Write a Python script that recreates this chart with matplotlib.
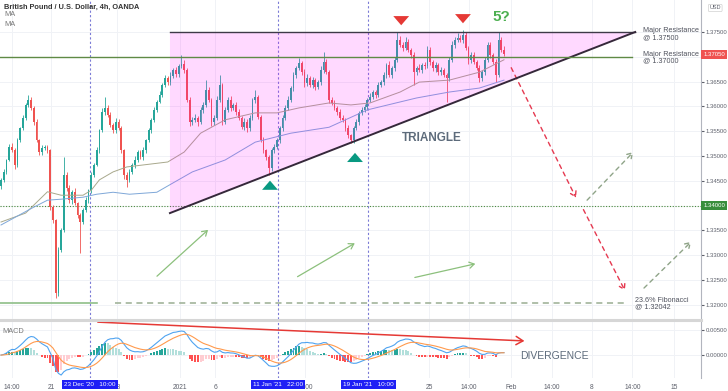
import numpy as np
import pandas as pd
import matplotlib
matplotlib.use("Agg")
import matplotlib.pyplot as plt
from matplotlib.patches import Polygon

plt.rcParams['font.family'] = ['Liberation Sans', 'DejaVu Sans']

# GBP/USD 4h candles (closes, open = previous close)
first_open = 1.3440
closes = [
    1.3452, 1.3468, 1.3492, 1.3518, 1.3512, 1.3482, 1.3532, 1.3556, 1.3577, 1.3603,
    1.3613, 1.3597, 1.3569, 1.3532, 1.3508, 1.3516, 1.3518, 1.3512, 1.3397, 1.3371,
    1.3224, 1.3311, 1.3351, 1.3462, 1.3436, 1.3411, 1.3427, 1.3405, 1.3381, 1.3367,
    1.3391, 1.3411, 1.3431, 1.3462, 1.3482, 1.3512, 1.3552, 1.3589, 1.3597, 1.3583,
    1.3563, 1.3552, 1.3569, 1.3556, 1.3512, 1.3462, 1.3452, 1.3468, 1.3482, 1.3492,
    1.3508, 1.3498, 1.3512, 1.3532, 1.3552, 1.3573, 1.3593, 1.3609, 1.3623, 1.3643,
    1.3657, 1.3649, 1.3661, 1.3673, 1.3665, 1.3681, 1.3686, 1.3673, 1.3613, 1.3569,
    1.3573, 1.3577, 1.3569, 1.3593, 1.3603, 1.3633, 1.3613, 1.3569, 1.3577, 1.3613,
    1.3643, 1.3569, 1.3593, 1.3613, 1.3597, 1.3603, 1.3589, 1.3577, 1.3558, 1.3569,
    1.3556, 1.3577, 1.3613, 1.3619, 1.3579, 1.3532, 1.3512, 1.3498, 1.3476, 1.3512,
    1.3518, 1.3532, 1.3556, 1.3577, 1.3597, 1.3613, 1.3637, 1.3663, 1.3677, 1.3688,
    1.3669, 1.3647, 1.3657, 1.3643, 1.3653, 1.3639, 1.3649, 1.3673, 1.3690, 1.3669,
    1.3613, 1.3607, 1.3597, 1.3589, 1.3577, 1.3573, 1.3556, 1.3542, 1.3532, 1.3556,
    1.3569, 1.3587, 1.3593, 1.3599, 1.3613, 1.3619, 1.3629, 1.3623, 1.3643, 1.3649,
    1.3663, 1.3683, 1.3663, 1.3677, 1.3694, 1.3734, 1.3724, 1.3718, 1.3730, 1.3714,
    1.3704, 1.3669, 1.3677, 1.3673, 1.3683, 1.3681, 1.3714, 1.3690, 1.3677, 1.3683,
    1.3669, 1.3673, 1.3663, 1.3657, 1.3694, 1.3724, 1.3734, 1.3738, 1.3734, 1.3744,
    1.3718, 1.3694, 1.3704, 1.3690, 1.3677, 1.3657, 1.3669, 1.3694, 1.3724, 1.3704,
    1.3690, 1.3663, 1.3734, 1.3714, 1.3705]

# wick lengths beyond the body, in pips
wick_hi = [
    4, 5, 3, 6, 8, 4, 5, 3, 6, 4, 10, 6, 4, 5, 3, 6, 4, 5, 3, 4,
    3, 6, 4, 36, 5, 6, 4, 8, 3, 5, 4, 6, 3, 5, 4, 6, 3, 8, 22, 6,
    5, 4, 8, 6, 4, 3, 5, 6, 4, 8, 5, 4, 6, 3, 5, 4, 6, 3, 8, 5,
    6, 4, 8, 5, 6, 4, 18, 8, 4, 6, 5, 8, 4, 6, 5, 20, 6, 4, 5, 8,
    20, 4, 6, 5, 8, 4, 6, 5, 4, 8, 5, 6, 4, 14, 5, 4, 6, 3, 5, 4,
    6, 5, 4, 6, 5, 8, 4, 6, 5, 10, 4, 6, 8, 5, 6, 4, 5, 8, 20, 6,
    4, 6, 5, 4, 6, 5, 4, 6, 3, 5, 6, 4, 5, 6, 4, 8, 5, 4, 6, 5,
    6, 4, 8, 5, 6, 16, 8, 6, 10, 5, 4, 6, 5, 8, 4, 6, 8, 5, 4, 6,
    5, 6, 4, 5, 6, 8, 6, 10, 6, 10, 5, 4, 6, 5, 4, 6, 5, 6, 6, 5,
    4, 5, 16, 6, 8]
wick_lo = [
    6, 4, 5, 3, 4, 8, 5, 4, 3, 5, 4, 5, 6, 4, 6, 5, 4, 5, 6, 5,
    10, 6, 4, 5, 6, 5, 8, 4, 6, 63, 5, 4, 6, 5, 4, 3, 5, 4, 6, 5,
    4, 6, 5, 4, 6, 8, 14, 5, 4, 6, 5, 4, 6, 5, 4, 6, 5, 4, 3, 5,
    4, 6, 5, 4, 6, 5, 4, 6, 5, 8, 6, 4, 8, 5, 6, 4, 5, 8, 6, 4,
    5, 6, 4, 5, 6, 4, 6, 5, 4, 6, 8, 5, 4, 6, 5, 4, 6, 5, 14, 6,
    5, 4, 6, 5, 4, 5, 4, 6, 5, 4, 6, 8, 5, 4, 6, 5, 4, 6, 5, 4,
    6, 5, 4, 6, 5, 4, 6, 5, 6, 5, 4, 6, 5, 4, 6, 5, 4, 6, 5, 4,
    5, 6, 4, 5, 6, 4, 5, 6, 4, 5, 6, 26, 5, 4, 6, 5, 4, 6, 5, 8,
    5, 6, 4, 48, 5, 4, 6, 5, 4, 6, 5, 8, 6, 5, 4, 8, 6, 5, 4, 6,
    5, 14, 4, 5, 3]

# moving averages (bar index, price)
ma_fast_idx = [0, 9, 17, 22, 30, 33, 36, 41, 46, 61, 67, 73, 82, 93, 101, 109, 120, 128, 135, 146, 153, 164, 175, 184]
ma_fast = [1.3367, 1.3385, 1.3428, 1.3421, 1.3421, 1.3431, 1.3452, 1.3468, 1.3478, 1.3488, 1.3508, 1.3546,
           1.3573, 1.3587, 1.3587, 1.3597, 1.3607, 1.3603, 1.3607, 1.3629, 1.3649, 1.3653, 1.3669, 1.3694]
ma_slow_idx = [0, 12, 17, 22, 30, 35, 41, 47, 57, 63, 70, 82, 93, 106, 120, 134, 152, 164, 175, 184]
ma_slow = [1.3361, 1.3397, 1.3411, 1.3413, 1.3417, 1.3423, 1.3427, 1.3423, 1.3427, 1.3446, 1.3468, 1.3492,
           1.3528, 1.3546, 1.3558, 1.3593, 1.3617, 1.3629, 1.3637, 1.3653]

tick_pos = [4.0, 18.3, 42.4, 65.5, 78.3, 111.2, 156.6, 171.2, 186.5, 201.5, 216.2, 231.0, 246.3]
tick_labels = ['14:00', '21', '28', '2021', '6', '14:00', '25', '14:00', 'Feb', '14:00', '8', '14:00', '15']

# marked dates (bar index, label)
marks = [(32.6, "23 Dec '20   10:00"), (101.4, "11 Jan '21   22:00"), (134.3, "19 Jan '21   10:00")]

res_top = 1.375
res_mid = 1.370
support = 1.340
fib = 1.32042
last_price = 1.3705

UP = '#26a69a'
DN = '#ef5350'
GRID = '#f0f2f6'
TXT = '#5d606b'

fig = plt.figure(figsize=(7.28, 3.91), dpi=100)
ax = fig.add_axes([0, 0.184, 0.963, 0.816])
axm = fig.add_axes([0, 0.033, 0.963, 0.146], sharex=ax)

c = np.array(closes)
o = np.concatenate([[first_open], c[:-1]])
hi = np.maximum(o, c) + np.array(wick_hi) * 1e-4
lo = np.minimum(o, c) - np.array(wick_lo) * 1e-4
idx = np.arange(len(c))
col = np.where(c >= o, UP, DN)

ax.vlines(idx, lo, hi, colors=col, lw=0.6, zorder=2)
ax.bar(idx, np.maximum(np.abs(c - o), 0.00008), bottom=np.minimum(o, c), width=0.66,
       color=col, linewidth=0, zorder=2)

ax.plot(ma_fast_idx, ma_fast, color='#a8a88c', lw=0.7, zorder=2.5)
ax.plot(ma_slow_idx, ma_slow, color='#7ea7d8', lw=0.7, zorder=2.5)

# triangle
tri_x0, tri_x1, tri_low = 61.8, 232.0, 1.3385
ax.add_patch(Polygon([(tri_x0, res_top), (tri_x1, res_top), (tri_x0, tri_low)], closed=True,
                     fc='#ff00ff', alpha=0.15, ec='none', zorder=3))
ax.plot([tri_x0, tri_x1], [res_top, res_top], color='#3e3a48', lw=1.0, zorder=4)
ax.plot([tri_x0, tri_x1], [tri_low, res_top], color='#35283a', lw=1.4, zorder=4)

# levels
ax.plot([-0.4, 231], [res_mid, res_mid], color='#5f8a45', lw=1.0, zorder=4)
ax.axhline(support, color='#4a8a3c', lw=0.8, ls=(0, (1, 1.5)), zorder=1)
ax.plot([-0.4, 35], [fib, fib], color='#8fbf88', lw=1.2, zorder=1)
ax.plot([41.7, 228.3], [fib, fib], color='#9aae92', lw=1.1, ls=(0, (4, 3)), zorder=1)

# projected path
dash_red = dict(arrowstyle='->,head_length=0.35,head_width=0.22', color='#e53950', lw=1.0, ls=(0, (3, 3)))
ax.annotate('', xy=(210.8, 1.3411), xytext=(186.2, 1.3683), arrowprops=dash_red)
ax.annotate('', xy=(228.7, 1.3224), xytext=(212.6, 1.3397), arrowprops=dash_red)
dash_grey = dict(arrowstyle='->,head_length=0.35,head_width=0.22', color='#8fa488', lw=1.0, ls=(0, (3, 3)))
ax.annotate('', xy=(232.0, 1.3512), xytext=(213.7, 1.3407), arrowprops=dash_grey)
ax.annotate('', xy=(253.2, 1.3331), xytext=(234.5, 1.3230), arrowprops=dash_grey)

solid_green = dict(arrowstyle='->,head_length=0.35,head_width=0.22', color='#8cc07c', lw=0.9)
ax.annotate('', xy=(76.5, 1.3355), xytext=(56.3, 1.3254), arrowprops=solid_green)
ax.annotate('', xy=(130.3, 1.3327), xytext=(107.6, 1.3254), arrowprops=solid_green)
ax.annotate('', xy=(174.5, 1.3284), xytext=(150.4, 1.3254), arrowprops=solid_green)

block = 'simple,head_width=0.95,head_length=0.55,tail_width=0.45'
for x, tip, tail, cc in [(146.4, 1.3758, 1.3784, '#e53935'), (169.0, 1.3762, 1.3788, '#e53935'),
                         (98.4, 1.3456, 1.3430, '#089981'), (129.5, 1.3512, 1.3486, '#089981')]:
    ax.annotate('', xy=(x, tip), xytext=(x, tail),
                arrowprops=dict(arrowstyle=block, color=cc, lw=0, mutation_scale=12), zorder=6)

ax.text(183, 1.3780, '5?', color='#4caf50', fontsize=11, fontweight='bold', ha='center', va='center')
ax.text(157.5, 1.3537, 'TRIANGLE', color='#5d6b7b', fontsize=8.5, fontweight='bold', ha='center', va='center')
ax.text(235, 1.3746, 'Major Resistance\n@ 1.37500', color='#50535e', fontsize=5.2,
        va='center', linespacing=0.95)
ax.text(235, 1.3698, 'Major Resistance\n@ 1.37000', color='#50535e', fontsize=5.2,
        va='center', linespacing=0.95)
ax.text(232, 1.3202, '23.6% Fibonacci\n@ 1.32042', color='#50535e', fontsize=5.2,
        va='center', linespacing=0.95)

ax.text(0.006, 0.978, 'British Pound / U.S. Dollar, 4h, OANDA', transform=ax.transAxes,
        fontsize=5.3, color='#333333', fontweight='bold', va='center')
ax.text(0.006, 0.953, 'MA', transform=ax.transAxes, fontsize=5.3, color='#777777', va='center')
ax.text(0.006, 0.924, 'MA', transform=ax.transAxes, fontsize=5.3, color='#777777', va='center')

# MACD
s = pd.Series(closes)
macd = s.ewm(span=12, adjust=False).mean() - s.ewm(span=26, adjust=False).mean()
signal = macd.ewm(span=9, adjust=False).mean()
hist = (macd - signal).values
prev = np.concatenate([[0.0], hist[:-1]])
hcol = np.where(hist >= 0, np.where(hist >= prev, '#26a69a', '#b2dfdb'),
                np.where(hist < prev, '#ff5252', '#ffcdd2'))
axm.bar(idx, hist, width=0.7, color=hcol, linewidth=0, zorder=2)
axm.plot(idx, macd, color='#4fa3f0', lw=0.8, zorder=3)
axm.plot(idx, signal, color='#ff9a4d', lw=0.8, zorder=3)
axm.annotate('', xy=(192.5, 0.0028), xytext=(34.4, 0.0066),
             arrowprops=dict(arrowstyle='->,head_length=0.5,head_width=0.3', color='#e53935', lw=1.1))
axm.text(190, -0.0001, 'DIVERGENCE', color='#5d6b7b', fontsize=7.5, va='center')
axm.text(0.004, 0.82, 'MACD', transform=axm.transAxes, fontsize=5.3, color='#777777', va='center')

for a in (ax, axm):
    for x, _ in marks:
        a.axvline(x, color='#7b7bd6', lw=0.8, ls=(0, (2, 2)), zorder=1)
    for t in tick_pos:
        a.axvline(t, color=GRID, lw=0.7, zorder=0)
    a.yaxis.tick_right()
    a.tick_params(axis='y', labelsize=4.3, colors=TXT, length=2, pad=1.5)
    a.tick_params(axis='x', length=0)
    for sp in ('top', 'left', 'bottom'):
        a.spines[sp].set_visible(False)
    a.spines['right'].set_color('#b2b5be')

ax.set_xlim(-0.37, 256.1)
ax.set_ylim(1.31714, 1.38145)
yt = np.arange(1.320, 1.3751, 0.005)
ax.set_yticks(yt)
# the scale labels under the two price tags are hidden by the tags
ax.set_yticklabels(['' if abs(v - res_mid) < 1e-6 or abs(v - support) < 1e-6 else '%.5f' % v for v in yt])
for v in yt:
    ax.axhline(v, color=GRID, lw=0.7, zorder=0)
ax.tick_params(axis='x', labelbottom=False)

axm.set_ylim(-0.0046, 0.0068)
axm.set_yticks([0.0, 0.005])
axm.set_yticklabels(['0.00000', '0.00500'])
for v in (0.0, 0.005):
    axm.axhline(v, color=GRID, lw=0.7, zorder=0)
axm.set_xticks(tick_pos)
axm.set_xticklabels(tick_labels, fontsize=4.8, color=TXT)
axm.tick_params(axis='x', pad=4)

# separator between panes
fig.add_artist(plt.Line2D([0, 0.963], [0.181, 0.181], color='#d6d6d6', lw=2.2))

# price tags on the scale
ax.text(1.003, last_price, '1.37050', transform=ax.get_yaxis_transform(), fontsize=4.3, color='white',
        va='center', clip_on=False, bbox=dict(boxstyle='square,pad=0.3', fc='#ef5350', ec='none'))
ax.text(1.003, support, '1.34000', transform=ax.get_yaxis_transform(), fontsize=4.3, color='white',
        va='center', clip_on=False, bbox=dict(boxstyle='square,pad=0.3', fc='#388e3c', ec='none'))
ax.text(1.012, 0.975, 'USD', transform=ax.transAxes, fontsize=4, color=TXT, va='center',
        bbox=dict(boxstyle='round,pad=0.2', fc='white', ec='#d0d0d0', lw=0.5))

# date boxes on the time scale
x0, x1 = ax.get_xlim()
for x, lab in marks:
    fx = 0.963 * (x - x0) / (x1 - x0)
    fig.text(fx, 0.017, lab, fontsize=4.6, color='white', ha='center', va='center', zorder=10,
             bbox=dict(boxstyle='square,pad=0.35', fc='#1f1ff5', ec='none'))

fig.savefig('out.png', dpi=100)
